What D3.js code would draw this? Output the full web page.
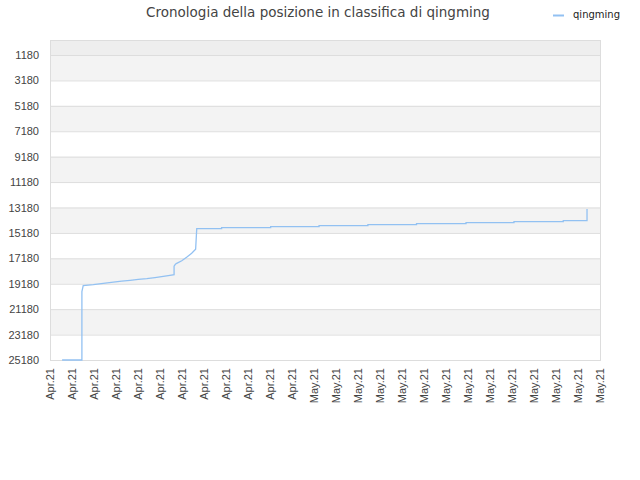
<!DOCTYPE html>
<html>
<head>
<meta charset="utf-8">
<script src="https://cdn.jsdelivr.net/npm/d3@7"></script>
<style>
  body { margin: 0; background: #fff; }
  svg { font-family: "DejaVu Sans", sans-serif; }
</style>
</head>
<body>
<div id="canvas"></div>
<script>
// x positions are in tick units (0 = first tick), y is the ranking
const tickLabels = [
  "Apr.21", "Apr.21", "Apr.21", "Apr.21", "Apr.21", "Apr.21",
  "Apr.21", "Apr.21", "Apr.21", "Apr.21", "Apr.21", "Apr.21",
  "May.21", "May.21", "May.21", "May.21", "May.21", "May.21", "May.21",
  "May.21", "May.21", "May.21", "May.21", "May.21", "May.21", "May.21"
];
const yTicks = [1180, 3180, 5180, 7180, 9180, 11180, 13180, 15180, 17180, 19180, 21180, 23180, 25180];
const times = [0.55, 1.45, 1.45, 1.51, 1.97, 2.42, 2.88, 3.26, 3.64, 4.01, 4.40, 4.77, 5.15, 5.45, 5.64,
  5.64, 5.70, 5.76, 5.99, 6.21, 6.44, 6.62, 6.67,
  7.80, 7.80, 10.03, 10.03, 12.23, 12.23, 14.45, 14.45, 16.66, 16.66,
  18.91, 18.91, 21.09, 21.09, 23.33, 23.33, 24.41, 24.41];
const ranks = [25180, 25180, 19800, 19334, 19250, 19150, 19060, 18980, 18912, 18832, 18770, 18690, 18600, 18518, 18470,
  17800, 17650, 17572, 17367, 17100, 16785, 16470, 14849,
  14849, 14770, 14770, 14692, 14692, 14613, 14613, 14534, 14534, 14455,
  14455, 14377, 14377, 14298, 14298, 14219, 14219, 13299];
const seriesName = "qingming";

const width = 640, height = 480;
const margin = { top: 40, left: 50, bottom: 120, right: 40 };
const iwidth = width - margin.left - margin.right;
const iheight = height - margin.top - margin.bottom;

const svg = d3.select("#canvas").append("svg")
  .attr("width", width).attr("height", height);

svg.append("text")
  .attr("x", 318).attr("y", 17)
  .attr("text-anchor", "middle")
  .style("font-size", "13.5px")
  .style("fill", "#444")
  .text("Cronologia della posizione in classifica di qingming");

const g = svg.append("g").attr("transform", `translate(${margin.left},${margin.top})`);

const x = d3.scaleLinear().domain([0, tickLabels.length - 1]).range([0, iwidth]);
const y = d3.scaleLinear().domain([0, 25180]).range([0, iheight]);

// background bands
g.append("rect")
  .attr("x", 0).attr("y", 0)
  .attr("width", iwidth).attr("height", y(yTicks[0]))
  .style("fill", "#eeeeee");
const bands = d3.range(0, yTicks.length - 1, 2);
g.selectAll(".band").data(bands).enter().append("rect")
  .attr("class", "band")
  .attr("x", 0)
  .attr("y", (i) => y(yTicks[i]))
  .attr("width", iwidth)
  .attr("height", (i) => y(yTicks[i + 1]) - y(yTicks[i]))
  .style("fill", "#f3f3f3");

g.selectAll(".grid").data(yTicks).enter().append("line")
  .attr("class", "grid")
  .attr("x1", 0).attr("x2", iwidth)
  .attr("y1", (d) => y(d) + 0.5).attr("y2", (d) => y(d) + 0.5)
  .style("stroke", "#dddddd");

g.append("rect")
  .attr("x", 0.5).attr("y", 0.5)
  .attr("width", iwidth).attr("height", iheight)
  .style("fill", "none").style("stroke", "#dddddd");

// axes
const yAxis = g.append("g")
  .call(d3.axisLeft(y).tickValues(yTicks).tickFormat(d3.format("d")).tickSize(0).tickPadding(11));
yAxis.select(".domain").remove();
yAxis.selectAll("text").style("font-size", "11px").style("fill", "#444");

const xAxis = g.append("g")
  .attr("transform", `translate(0, ${iheight})`)
  .call(d3.axisBottom(x).tickValues(d3.range(tickLabels.length)).tickFormat((i) => tickLabels[i]).tickSize(0));
xAxis.select(".domain").remove();
xAxis.selectAll("text")
  .attr("transform", "rotate(-90)")
  .attr("text-anchor", "end")
  .attr("x", -8).attr("y", 0).attr("dy", "0.35em")
  .style("font-size", "11px").style("fill", "#444");

// series
const pts = times.map((t, i) => [t, ranks[i]]);
const line = d3.line().x((d) => x(d[0])).y((d) => y(d[1]));
g.append("path")
  .datum(pts)
  .attr("d", line)
  .style("fill", "none")
  .style("stroke", "#92c1f2")
  .style("stroke-width", 1.3);

// legend
svg.append("line")
  .attr("x1", 553).attr("x2", 564).attr("y1", 15.5).attr("y2", 15.5)
  .style("stroke", "#92c1f2").style("stroke-width", 2);
svg.append("text")
  .attr("x", 573).attr("y", 18)
  .style("font-size", "10px").style("fill", "#222")
  .text(seriesName);
</script>
</body>
</html>
